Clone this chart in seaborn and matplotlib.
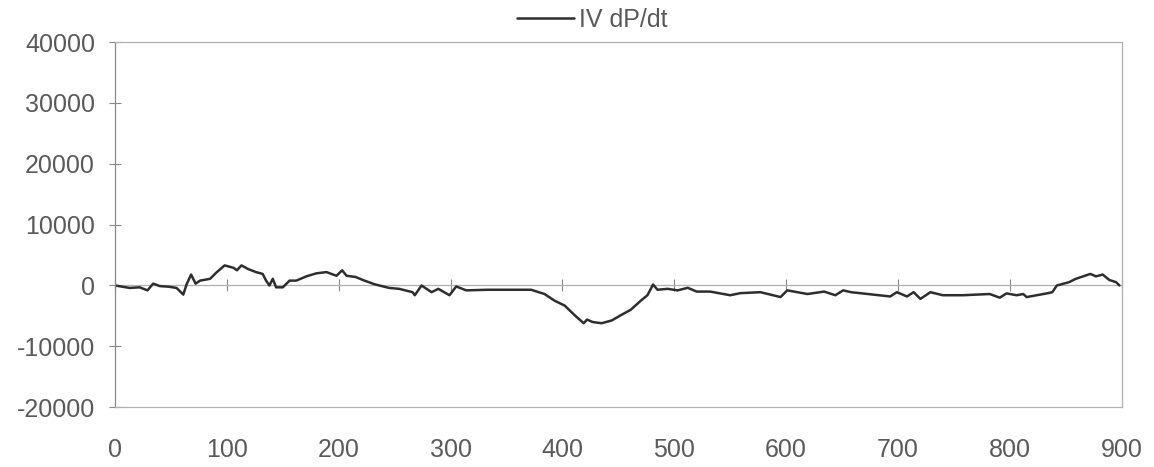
import matplotlib
matplotlib.use("Agg")
import matplotlib.pyplot as plt
import seaborn as sns
import pandas as pd

# ---- data ----
time_ms = [0, 13, 22, 29, 34, 40, 48, 55, 61, 64, 68, 72, 76, 85, 91, 98, 106, 109, 113, 119,
           126, 132, 135, 138, 141, 144, 150, 156, 162, 171, 180, 189, 198, 203, 207, 215, 223,
           232, 245, 254, 266, 268, 274, 283, 289, 299, 305, 314, 333, 355, 372, 384, 393, 402,
           411, 419, 422, 427, 435, 444, 452, 461, 470, 476, 481, 485, 494, 503, 512, 520, 532,
           550, 559, 577, 595, 601, 619, 634, 644, 651, 658, 673, 693, 699, 708, 714, 720, 729,
           740, 758, 782, 791, 797, 806, 812, 815, 824, 833, 838, 842, 853, 859, 872, 877, 883,
           889, 895, 898]
dpdt = [0, -400, -300, -800, 300, -100, -200, -400, -1500, 200, 1800, 300, 800, 1100, 2200,
        3300, 2900, 2500, 3300, 2700, 2200, 1900, 800, 0, 1100, -300, -300, 800, 800, 1500,
        2000, 2200, 1600, 2500, 1600, 1400, 800, 200, -400, -550, -1100, -1600, 0, -1100, -550,
        -1600, -160, -800, -700, -700, -700, -1400, -2500, -3300, -4900, -6200, -5600, -6000,
        -6200, -5750, -4900, -4000, -2500, -1600, 160, -700, -550, -800, -380, -1000, -1000,
        -1600, -1260, -1100, -1900, -800, -1400, -1000, -1600, -800, -1100, -1400, -1800, -1100,
        -1800, -1100, -2200, -1100, -1600, -1600, -1400, -2000, -1300, -1600, -1400, -1900,
        -1600, -1300, -1100, 0, 550, 1100, 1900, 1500, 1800, 900, 550, 0]
series_label = "IV dP/dt"
x_ticks = [0, 100, 200, 300, 400, 500, 600, 700, 800, 900]
y_ticks = [-20000, -10000, 0, 10000, 20000, 30000, 40000]

sns.set_style("white")
plt.rcParams["font.family"] = ["Liberation Sans", "DejaVu Sans"]

fig = plt.figure(figsize=(11.54, 4.67), dpi=100)
ax = fig.add_axes([0.0997, 0.128, 0.8723, 0.782])

df = pd.DataFrame({"t": time_ms, "v": dpdt})
sns.lineplot(data=df, x="t", y="v", ax=ax, color="#2e2e2e", linewidth=1.8,
             label=series_label, estimator=None, sort=False)

ax.set_xlim(0, 900)
ax.set_ylim(-20000, 40000)
ax.set_xlabel("")
ax.set_ylabel("")

tick_color = "#5a5a5a"
frame_color = "#b0b0b0"
ax.set_yticks(y_ticks)
ax.set_yticklabels([str(v) for v in y_ticks])
ax.set_xticks(x_ticks)
ax.set_xticklabels([str(v) for v in x_ticks])
ax.tick_params(axis="y", direction="inout", length=9, width=0.8, color="#888888",
               pad=10, labelsize=18, labelcolor=tick_color, left=True)
ax.tick_params(axis="x", length=0, pad=22, labelsize=18, labelcolor=tick_color)

for name, sp in ax.spines.items():
    sp.set_color(frame_color)
    sp.set_linewidth(0.9)
ax.spines["left"].set_color("#888888")

# horizontal axis crossing at zero (Excel-style), with tick marks but no labels
zero_frac = (0 - y_ticks[0]) / (y_ticks[-1] - y_ticks[0])
sec = ax.secondary_xaxis(zero_frac)
sec.set_xticks(x_ticks)
sec.set_xticklabels([])
sec.tick_params(direction="inout", length=9, width=0.8, color="#888888")
sec.spines["bottom"].set_color(frame_color)
sec.spines["bottom"].set_linewidth(0.9)

leg = ax.legend(loc="center", bbox_to_anchor=(0.474, 1.06), frameon=False,
                fontsize=18, handlelength=2.3, handletextpad=0.2, borderpad=0)
for t in leg.get_texts():
    t.set_color(tick_color)

fig.savefig("out.png", dpi=100, facecolor="white")
